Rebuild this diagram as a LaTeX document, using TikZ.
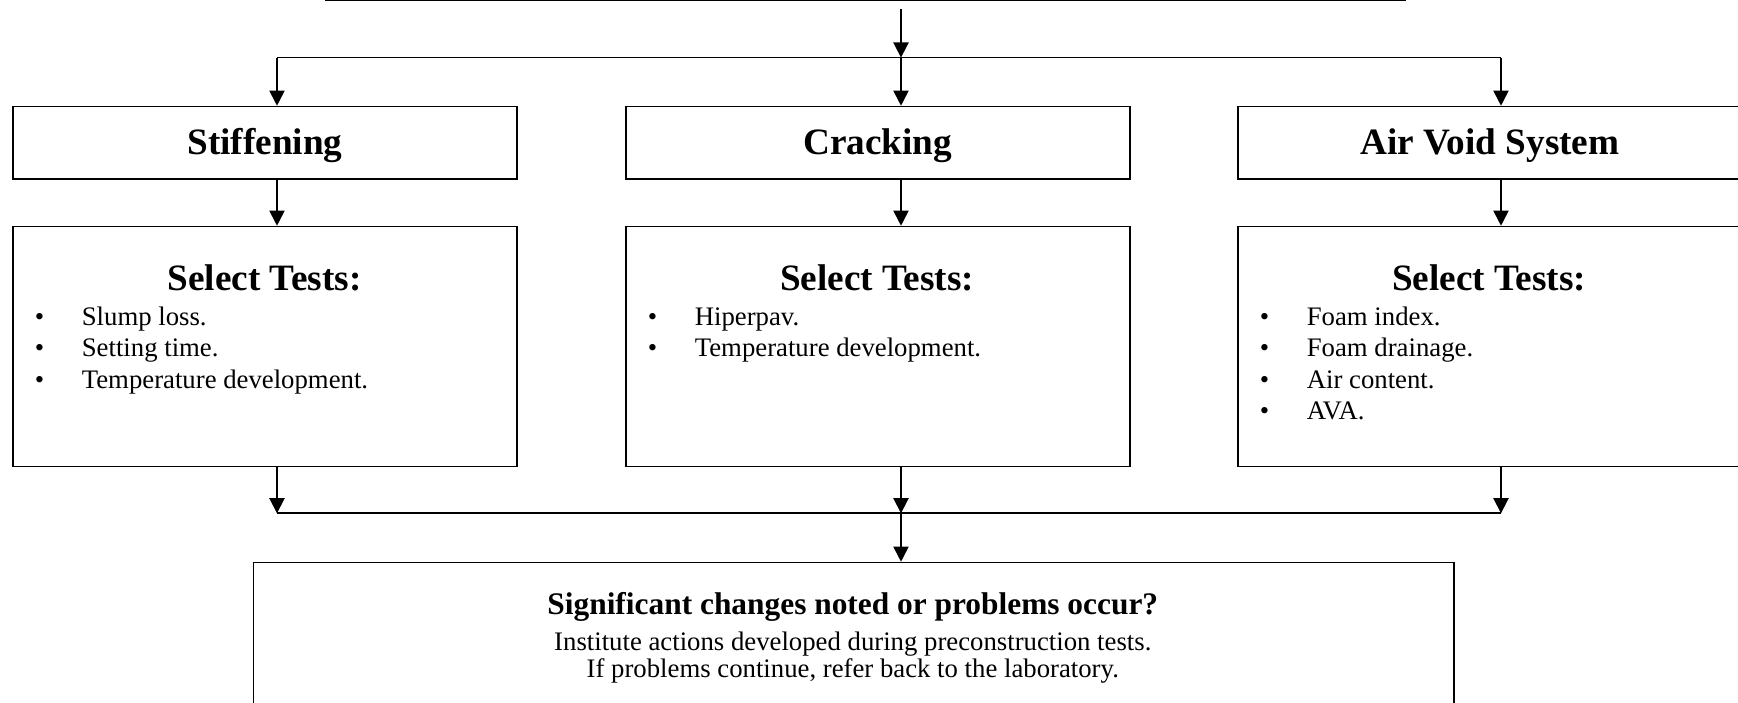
\documentclass[tikz,border=0pt]{standalone}
\usepackage{fontspec}
\setmainfont{Liberation Serif}
\usetikzlibrary{arrows.meta}

\newcommand{\itm}[1]{\makebox[20.2pt][l]{\textbullet}#1}

\begin{document}
\begin{tikzpicture}[x=0.43pt, y=-0.43pt, line width=0.75pt,
  box/.style = {draw, inner sep=0pt, minimum width=216.7pt},
  cat/.style = {box, minimum height=31pt, text height=10pt, text depth=0pt, font=\bfseries\fontsize{16}{19}\selectfont},
  tests/.style = {box, minimum height=103.2pt},
  head/.style = {anchor=base, inner sep=0pt, font=\bfseries\fontsize{16}{19}\selectfont},
  items/.style = {anchor=base west, align=left, inner sep=0pt, font=\fontsize{11.5}{13.5}\selectfont},
  arr/.style = {-{Triangle[length=6.5pt, width=6.5pt]}}]
\useasboundingbox (0,0) rectangle (1738,702);
\clip (0,0) rectangle (1738,702);

\node[box, minimum width=464pt, minimum height=30pt, anchor=south west] (top) at (325,1) {};

\node[cat, anchor=north west] (stiff) at (12,105.7) {Stiffening};
\node[cat, anchor=north west] (crack) at (625,105.7) {Cracking};
\node[cat, anchor=north west] (air) at (1237,105.7) {Air Void System};

\node[tests, anchor=north west] (sTests) at (12,225.7) {};
\node[tests, anchor=north west] (cTests) at (625,225.7) {};
\node[tests, anchor=north west] (aTests) at (1237,225.7) {};

\node[head] (sHead) at (264.5,290) {Select Tests:};
\node[head] (cHead) at (877,290) {Select Tests:};
\node[head] (aHead) at (1489,290) {Select Tests:};

% lists sit on the baseline of their last line
\node[items] (sList) at (34,388) {\itm{Slump loss.}\\ \itm{Setting time.}\\ \itm{Temperature development.}};
\node[items] (cList) at (647,356.5) {\itm{Hiperpav.}\\ \itm{Temperature development.}};
\node[items] (aList) at (1259,419.5) {\itm{Foam index.}\\ \itm{Foam drainage.}\\ \itm{Air content.}\\ \itm{AVA.}};

\node[box, minimum width=516.2pt, minimum height=90pt, anchor=north west] (result) at (252.6,561.7) {};
\node[anchor=base, inner sep=0pt, font=\bfseries\fontsize{13.5}{16}\selectfont] (resQ) at (852.8,614) {Significant changes noted or problems occur?};
\node[anchor=base, align=center, inner sep=0pt, font=\fontsize{11.5}{11.5}\selectfont] (resA) at (852.8,677) {Institute actions developed during preconstruction tests.\\ If problems continue, refer back to the laboratory.};

% bus lines
\coordinate (tl) at (277,57.6);
\coordinate (tm) at (901,57.6);
\coordinate (tr) at (1501,57.6);
\coordinate (bl) at (277,513.3);
\coordinate (bm) at (901,513.3);
\coordinate (br) at (1501,513.3);

\draw[arr, shorten <=3.4pt] (tm |- top.south) -- (tm);
\draw (tl) -- (tr);
\draw[arr] (tl) -- (tl |- stiff.north);
\draw[arr] (tm) -- (tm |- crack.north);
\draw[arr] (tr) -- (tr |- air.north);

\draw[arr] (tl |- stiff.south) -- (tl |- sTests.north);
\draw[arr] (tm |- crack.south) -- (tm |- cTests.north);
\draw[arr] (tr |- air.south) -- (tr |- aTests.north);

\draw[arr] (tl |- sTests.south) -- (bl);
\draw[arr] (tm |- cTests.south) -- (bm);
\draw[arr] (tr |- aTests.south) -- (br);
\draw (bl) -- (br);
\draw[arr] (bm) -- (bm |- result.north);

\end{tikzpicture}
\end{document}
